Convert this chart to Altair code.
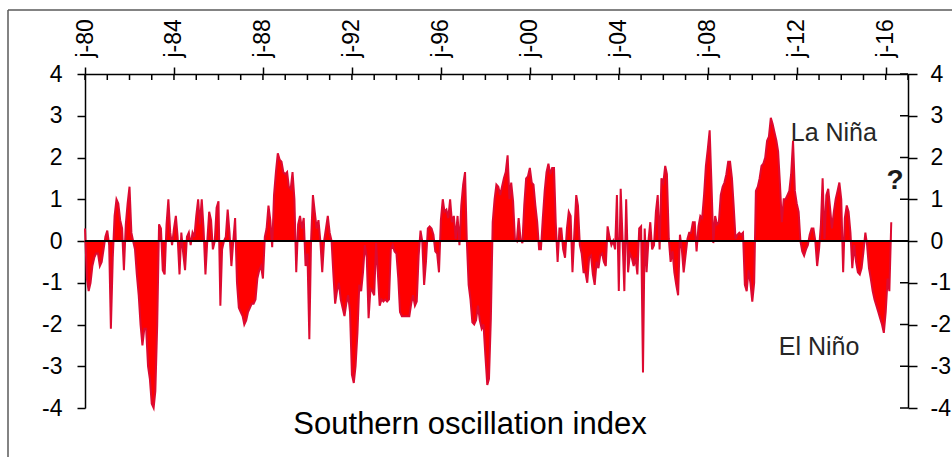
import altair as alt
import pandas as pd

# Monthly Southern Oscillation Index, Jan 1980 - Apr 2016
soi_1980s = [
    0.3, -0.9, -1.2, -1.0, -0.6, -0.4, -0.3, -0.3, -0.6, -0.5, -0.2, 0.1,      # 1980
    0.25, -0.1, -2.1, -0.4, 0.6, 1.0, 0.9, 0.5, 0.3, -0.7, 0.4, 0.9,           # 1981
    1.3, 0.2, 0.0, -0.2, -0.8, -1.3, -2.0, -2.5, -2.1, -2.1, -3.0, -3.3,       # 1982
    -3.9, -4.0, -3.6, -2.0, 0.4, 0.3, -0.7, -0.8, 0.4, 1.0, 0.2, -0.1,         # 1983
    0.3, 0.6, 0.1, -0.8, 0.2, -0.3, -0.7, 0.1, 0.2, -0.1, 0.2, 0.1,            # 1984
    0.6, 1.0, 0.4, 1.0, 0.3, -0.8, 0.0, 0.7, 0.5, -0.2, 0.0, 0.8,              # 1985
    0.95, -1.55, -0.2, 0.0, 0.1, 0.75, 0.2, -0.6, 0.0, 0.55, -1.0, -1.6,       # 1986
    -1.7, -1.8, -2.0, -1.9, -1.7, -1.6, -1.5, -1.5, -1.4, -0.9, -0.7, -0.6,    # 1987
    -0.9, 0.1, 0.3, 0.85, 0.5, -0.15, 1.1, 1.65, 2.1, 1.95, 1.9, 1.65,         # 1988
    1.6, 1.65, 1.3, 1.25, 1.65, 1.0, -0.75, 0.4, 0.6, 0.3, 0.55, -0.6,         # 1989
]
soi_1990s = [
    -0.3, -2.35, 0.0, 1.1, 0.7, 0.3, 0.5, 0.0, -0.75, 0.0, 0.3, 0.6,          # 1990
    0.2, 0.0, -0.75, -1.5, -1.2, -1.0, -1.4, -1.6, -1.8, -1.5, -1.3, -1.7,     # 1991
    -3.2, -3.4, -3.0, -2.2, -1.05, -1.2, -0.75, -0.1, -0.4, -1.85, -1.15, -1.2,  # 1992
    -1.3, -0.05, -0.75, -1.55, -1.4, -1.45, -1.4, -1.45, -1.4, -0.2, -0.1, -0.25,  # 1993
    -0.3, -0.9, -1.7, -1.8, -1.8, -1.8, -1.8, -1.8, -1.5, -1.3, -1.55, -1.45,  # 1994
    -0.35, 0.25, 0.0, -1.05, -0.5, 0.3, 0.35, 0.3, 0.15, -0.25, -0.3, -0.75,  # 1995
    0.5, 1.0, 0.7, 0.75, 0.55, 1.0, 0.45, 0.6, 0.05, 0.6, -0.1, 0.85,         # 1996
    1.35, 1.65, 0.05, -1.05, -1.4, -1.95, -2.0, -1.9, -1.55, -1.9, -2.1, -2.0,  # 1997
    -2.75, -3.45, -3.3, -1.85, 0.45, 1.0, 1.35, 1.3, 1.1, 1.3, 1.5, 1.65,     # 1998
    2.05, 1.0, 1.4, 0.95, 0.05, 0.0, 0.55, 0.05, -0.05, 0.85, 1.5, 1.55,      # 1999
]
soi_2000s = [
    1.75, 1.4, 1.35, 0.85, 0.45, -0.2, -0.2, 0.55, 1.2, 1.65, 1.85, 1.6,      # 2000
    1.75, 1.75, 0.45, -0.5, 0.3, 0.3, -0.2, -0.4, 0.3, 0.7, 0.6, -0.75,       # 2001
    0.2, 1.1, 0.85, -0.1, -0.3, -0.75, -0.75, -1.0, -0.4, -0.35, -0.8, -1.05,  # 2002
    -0.5, -0.65, -0.35, -0.3, -0.5, -0.6, 0.35, 0.1, -0.1, 0.0, -0.2, 1.1,    # 2003
    -1.2, 1.25, 0.1, -1.2, 1.0, -0.75, -0.3, -0.4, -0.6, -0.4, -0.8, 0.3,     # 2004
    0.35, -3.15, 0.3, -0.75, 0.0, 0.45, -0.2, -0.1, 0.7, 1.1, -0.2, 1.5,      # 2005
    1.4, 1.8, 1.6, 0.05, -0.5, -0.25, -0.75, -1.05, -1.3, 0.15, -0.2, -0.75,  # 2006
    -0.35, 0.05, 0.2, 0.2, 0.45, 0.45, -0.25, 0.35, 0.6, 0.55, 1.1, 1.8,      # 2007
    2.2, 2.65, 1.4, -0.05, 0.6, 0.4, 0.45, 1.1, 1.3, 1.4, 1.6, 1.9,           # 2008
    1.9, 1.5, 0.85, 0.05, 0.15, 0.2, 0.15, 0.2, -1.05, -1.2, -0.7, -1.0,      # 2009
]
soi_2010s = [
    -1.45, -1.0, 1.2, 1.3, 1.5, 1.8, 1.85, 2.0, 2.4, 2.5, 2.95, 2.8,          # 2010
    2.6, 2.4, 2.15, 1.35, 0.45, 1.0, 1.0, 1.1, 1.2, 1.6, 2.4, 1.2,            # 2011
    0.9, 0.7, 0.0, -0.25, -0.35, -0.2, -0.1, 0.15, 0.3, 0.3, 0.0, -0.6,       # 2012
    -0.2, 0.4, 1.5, 0.05, 1.1, 1.25, 0.8, 0.3, 0.7, 1.0, 1.2, 1.4,            # 2013
    1.0, -0.75, 0.55, 0.85, 0.7, 0.2, -0.65, -0.1, -0.5, -0.75, -0.8, -0.65,  # 2014
    -0.25, 0.2, -0.1, -0.65, -0.9, -1.2, -1.4, -1.55, -1.7, -1.85, -2.0, -2.2,  # 2015
    -1.7, -0.9, -1.2, 0.45,                                                   # 2016
]

y_ticks = [-4, -3, -2, -1, 0, 1, 2, 3, 4]
major_years = list(range(1980, 2017, 4))
minor_years = list(range(1980, 2018))

ann_text = ["La Niña", "El Niño"]
ann_date = ["2013-09-01T00:00:00", "2013-01-01T00:00:00"]
ann_value = [2.59, -2.54]
q_text = ["?"]
q_date = ["2016-06-01T00:00:00"]
q_value = [1.44]

values = soi_1980s + soi_1990s + soi_2000s + soi_2010s
dates = pd.date_range("1980-01-01", periods=len(values), freq="MS").strftime("%Y-%m-%dT00:00:00")
df = pd.DataFrame({"date": list(dates), "soi": values})
ticks_df = pd.DataFrame({"v": y_ticks})
minor_df = pd.DataFrame({"d": [f"{y}-01-01T00:00:00" for y in minor_years]})
ann_df = pd.DataFrame({"date": ann_date, "v": ann_value, "t": ann_text})
q_df = pd.DataFrame({"date": q_date, "v": q_value, "t": q_text})
one = pd.DataFrame({"a": [0]})

W, H = 823, 334
FONT = "Liberation Sans"

x_scale = alt.Scale(domain=[alt.DateTime(year=1980, month=1, date=1),
                            alt.DateTime(year=2017, month=1, date=1)])
y_scale = alt.Scale(domain=[-4, 4], nice=False, zero=False)

x_axis = alt.Axis(
    orient="top", values=[alt.DateTime(year=y, month=1, date=1) for y in major_years],
    labelExpr="'j-' + timeFormat(datum.value, '%y')",
    labelAngle=270, labelAlign="left", labelBaseline="middle",
    tickSize=7, labelPadding=10, grid=False, title=None,
    domainColor="black", tickColor="black", domainWidth=1.5, tickWidth=1.5,
    labelFontSize=23, labelFont=FONT, labelColor="black",
    labelOverlap=False, labelFlush=False,
)
y_axis_left = alt.Axis(
    orient="left", values=y_ticks, tickSize=8, labelPadding=15, grid=False, title=None,
    labelExpr="'' + datum.value",
    domainColor="black", tickColor="black", domainWidth=1.5, tickWidth=1.5,
    labelFontSize=23, labelFont=FONT, labelColor="black", labelFlush=False,
)
y_axis_right = alt.Axis(
    orient="right", values=y_ticks, tickSize=9, labelPadding=13, grid=False, title=None,
    labelExpr="'' + datum.value",
    domainColor="black", tickColor="black", domainWidth=1.5, tickWidth=1.5,
    labelFontSize=23, labelFont=FONT, labelColor="black", labelFlush=False,
)

X = alt.X("date:T", scale=x_scale, axis=x_axis)

area = alt.Chart(df).mark_area(color="#ff0000", interpolate="linear").encode(
    x=X,
    y=alt.Y("soi:Q", scale=y_scale, axis=y_axis_left),
    y2=alt.Y2Datum(0),
)
line = alt.Chart(df).mark_line(color="#dd0a30", strokeWidth=2, interpolate="linear").encode(
    x=alt.X("date:T", scale=x_scale),
    y=alt.Y("soi:Q", scale=y_scale, axis=None),
)
zero = alt.Chart(one).mark_rule(color="black", strokeWidth=2).encode(
    y=alt.YDatum(0, type="quantitative", scale=y_scale, axis=None),
)
right_ticks = alt.Chart(ticks_df).mark_rule(color="black", strokeWidth=1.5).encode(
    y=alt.Y("v:Q", scale=y_scale, axis=y_axis_right),
    x=alt.value(W - 8), x2=alt.value(W),
)
top_minor = alt.Chart(minor_df).mark_rule(color="black", strokeWidth=1.5).encode(
    x=alt.X("d:T", scale=x_scale),
    y=alt.value(0), y2=alt.value(6),
)
ann = alt.Chart(ann_df).mark_text(fontSize=25, font=FONT, color="#262626",
                                  align="center", baseline="middle").encode(
    x=alt.X("date:T", scale=x_scale),
    y=alt.Y("v:Q", scale=y_scale, axis=None),
    text="t:N",
)
qmark = alt.Chart(q_df).mark_text(fontSize=28, font=FONT, fontWeight="bold", color="#1a1a1a",
                                  align="center", baseline="middle").encode(
    x=alt.X("date:T", scale=x_scale),
    y=alt.Y("v:Q", scale=y_scale, axis=None),
    text="t:N",
)
title = alt.Chart(one).mark_text(text="Southern oscillation index", fontSize=31, font=FONT,
                                 color="black", align="center", baseline="middle").encode(
    x=alt.value(385), y=alt.value(351),
)
border_left = alt.Chart(one).mark_rule(color="#5a5a5a", strokeWidth=1.5).encode(
    x=alt.value(-77), y=alt.value(-64), y2=alt.value(H + 60),
)
border_top = alt.Chart(one).mark_rule(color="#5a5a5a", strokeWidth=1.5).encode(
    y=alt.value(-64), x=alt.value(-77), x2=alt.value(W + 60),
)

chart = alt.layer(
    area, line, zero, right_ticks, top_minor, ann, qmark, title, border_left, border_top
).resolve_scale(y="independent").properties(
    width=W, height=H,
    autosize=alt.AutoSizeParams(type="none"),
    padding={"left": 85, "top": 74, "right": 44, "bottom": 49},
    background="white",
).configure_view(stroke=None)

chart.save("out.html", embed_options={"renderer": "svg", "actions": False})
